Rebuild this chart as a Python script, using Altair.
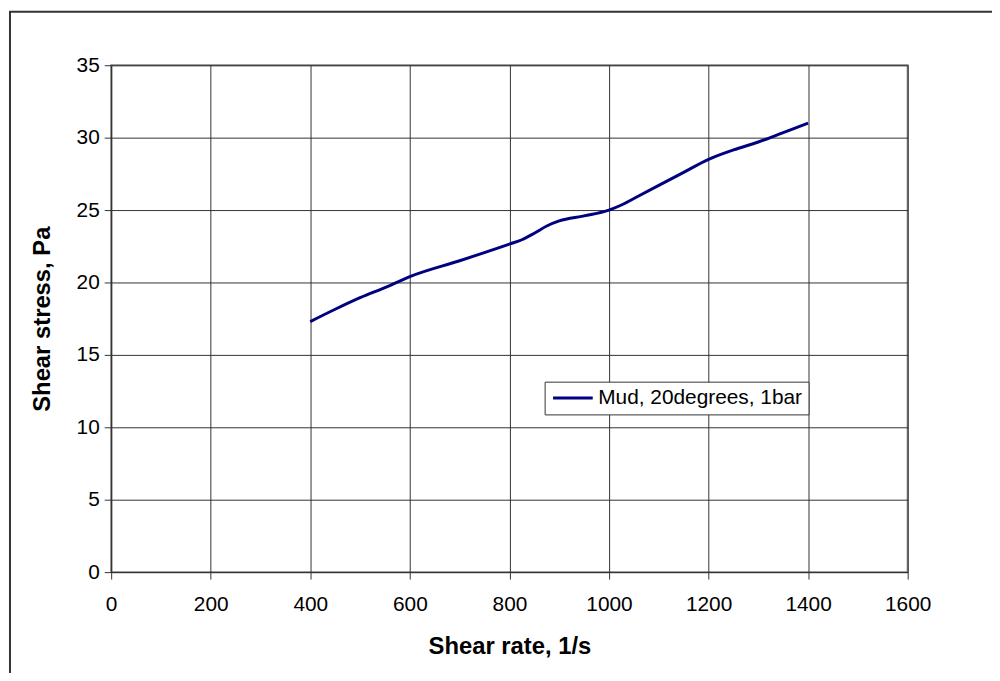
import altair as alt
import pandas as pd

shear_rate = [400, 450, 500, 556, 600, 700, 800, 825, 850, 875, 900, 950,
              1000, 1025, 1050, 1100, 1150, 1200, 1250, 1300, 1350, 1400]
shear_stress = [17.3, 18.15, 18.95, 19.73, 20.4, 21.5, 22.65, 22.95, 23.4, 23.9,
                24.25, 24.6, 25.0, 25.35, 25.8, 26.7, 27.6, 28.5, 29.15, 29.7,
                30.35, 31.0]
series_name = "Mud, 20degrees, 1bar"
x_ticks = [0, 200, 400, 600, 800, 1000, 1200, 1400, 1600]
y_ticks = [0, 5, 10, 15, 20, 25, 30, 35]

df = pd.DataFrame({"rate": shear_rate, "stress": shear_stress,
                   "series": [series_name] * len(shear_rate)})

W, H = 803, 511
FONT = "Liberation Sans"

border = alt.Chart(pd.DataFrame({"a": [0]})).mark_rect(
    fill=None, stroke="#333333", strokeWidth=2
).encode(
    x=alt.value(-102), x2=alt.value(W + 200),
    y=alt.value(-54), y2=alt.value(H + 200)
)

line = alt.Chart(df).mark_line(strokeWidth=3, interpolate="monotone").encode(
    x=alt.X("rate:Q", scale=alt.Scale(domain=[0, 1600], nice=False),
            axis=alt.Axis(values=x_ticks, format="d", title="Shear rate, 1/s",
                          grid=True, gridColor="#333333", gridWidth=1,
                          domain=True, domainColor="#333333",
                          ticks=True, tickSize=7, tickColor="#333333",
                          labelFlush=False,
                          labelFont=FONT, labelFontSize=21, labelColor="#000000",
                          labelPadding=15,
                          titleFont=FONT, titleFontSize=24, titleFontWeight="bold",
                          titleColor="#000000", titleX=W / 2, titleY=75,
                          titleBaseline="middle")),
    y=alt.Y("stress:Q", scale=alt.Scale(domain=[0, 35], nice=False),
            axis=alt.Axis(values=y_ticks, format="d", title="Shear stress, Pa",
                          grid=True, gridColor="#333333", gridWidth=1,
                          domain=True, domainColor="#333333",
                          ticks=True, tickSize=7, tickColor="#333333",
                          labelFlush=False,
                          labelFont=FONT, labelFontSize=21, labelColor="#000000",
                          labelPadding=5,
                          titleFont=FONT, titleFontSize=24, titleFontWeight="bold",
                          titleColor="#000000", titleX=-69, titleY=H / 2,
                          titleAngle=270, titleBaseline="middle", titleAlign="center")),
    color=alt.Color("series:N",
                    scale=alt.Scale(domain=[series_name], range=["#000080"]),
                    legend=alt.Legend(title=None, orient="none",
                                      legendX=437, legendY=319,
                                      fillColor="#ffffff", strokeColor="#333333",
                                      padding=6, symbolType="M-1,0H4",
                                      symbolSize=256, symbolStrokeWidth=3,
                                      labelOffset=27,
                                      labelFont=FONT, labelFontSize=21,
                                      labelColor="#000000", labelLimit=400))
)

chart = alt.layer(border, line).properties(
    width=W, height=H,
    autosize=alt.AutoSizeParams(type="none"),
    padding={"left": 104, "top": 55, "right": 85, "bottom": 99},
    background="#ffffff"
).configure_view(stroke="#808080", strokeWidth=2)

chart.save("out.html", embed_options={"renderer": "svg", "actions": False})
